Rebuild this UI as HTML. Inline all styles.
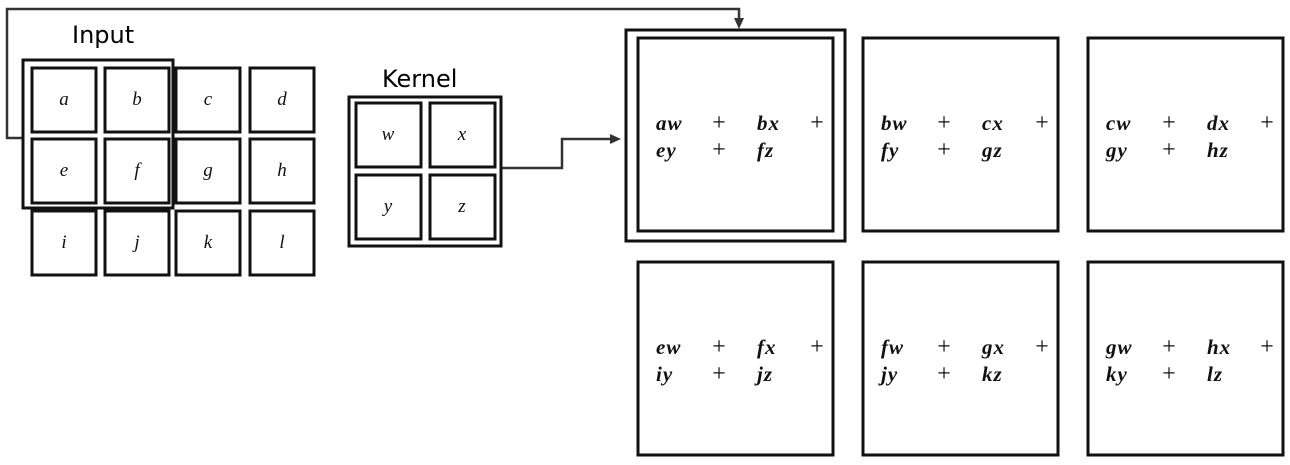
<!DOCTYPE html>
<html><head><meta charset="utf-8"><style>
body{margin:0;background:#fff;}
svg{display:block;}
.c{fill:none;stroke:#111;stroke-width:3;}
.m{font-family:"Liberation Serif",serif;font-style:italic;font-size:19px;fill:#111;text-anchor:middle;}
.p{font-family:"Liberation Serif",serif;font-size:24px;fill:#111;text-anchor:middle;}
.e{font-family:"Liberation Serif",serif;font-style:italic;font-weight:bold;font-size:21px;fill:#111;letter-spacing:1px;}
.t{font-family:"DejaVu Sans","Liberation Sans",sans-serif;font-size:24px;fill:#000;}
</style></head><body>
<svg width="1290" height="465">
<path d="M22,138 H7 V9 H739 V20" fill="none" stroke="#333" stroke-width="2.5"/>
<path d="M734,18 L744,18 L739,29z" fill="#333"/>
<path d="M501,168 H562 V139 H612" fill="none" stroke="#333" stroke-width="2.5"/>
<path d="M610,134 L621,139 L610,144z" fill="#333"/>
<text class="t" x="72" y="43">Input</text>
<text class="t" x="382" y="87">Kernel</text>
<rect class="c" x="23" y="60" width="150" height="148"/>
<g id="inp"></g>
<rect class="c" x="349" y="97" width="152" height="149"/>
<g id="ker"></g>
<rect class="c" x="626" y="30" width="219" height="211"/>
<g id="out"></g>
</svg>
<script>
const NS="http://www.w3.org/2000/svg";
const inLabels=["a","b","c","d","e","f","g","h","i","j","k","l"];
const kLabels=["w","x","y","z"];
const outTerms=[["aw","bx","ey","fz"],["bw","cx","fy","gz"],["cw","dx","gy","hz"],["ew","fx","iy","jz"],["fw","gx","jy","kz"],["gw","hx","ky","lz"]];
function mk(t,a,txt){const e=document.createElementNS(NS,t);for(const k in a)e.setAttribute(k,a[k]);if(txt)e.textContent=txt;return e;}
const ix=[32,105,176,250],iy=[68,139,211];
const gi=document.getElementById('inp');
inLabels.forEach((l,i)=>{const x=ix[i%4],y=iy[Math.floor(i/4)];
 const r=mk('rect',{class:'c',x:x,y:y,width:64,height:64});
 
 
 gi.appendChild(r);
 const t=mk('text',{class:'m',x:x+32,y:y+37},l);
 
 
 gi.appendChild(t);});
const kx=[356,430],ky=[103,175];
const gk=document.getElementById('ker');
kLabels.forEach((l,i)=>{const x=kx[i%2],y=ky[Math.floor(i/2)];
 const r=mk('rect',{class:'c',x:x,y:y,width:65,height:64});
 
 
 gk.appendChild(r);
 const t=mk('text',{class:'m',x:x+32,y:y+37},l);
 
 
 gk.appendChild(t);});
const ox=[638,863,1088],oy=[38,262];
const go=document.getElementById('out');
outTerms.forEach((tm,i)=>{const x=ox[i%3],y=oy[Math.floor(i/3)];
 const r=mk('rect',{class:'c',x:x,y:y,width:195,height:193});
 
 
 go.appendChild(r);
 const pairs=[[tm[0],tm[1],true],[tm[2],tm[3],false]];
 pairs.forEach((p,j)=>{const by=y+92+j*27;
  const a=mk('text',{class:'e',x:x+18,y:by},p[0]);
  
  
  go.appendChild(a);
  const pl=mk('text',{class:'p',x:x+81,y:by},'+');
  
  
  go.appendChild(pl);
  const b=mk('text',{class:'e',x:x+119,y:by},p[1]);
  
  
  go.appendChild(b);
  if(p[2]){const p2=mk('text',{class:'p',x:x+179,y:by},'+');
   
   
   go.appendChild(p2);}
 });});
</script>
</body></html>
